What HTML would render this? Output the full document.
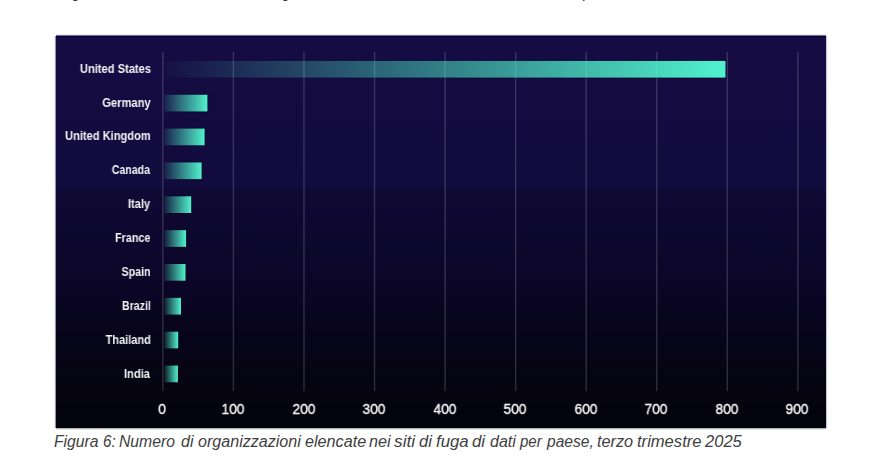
<!DOCTYPE html>
<html>
<head>
<meta charset="utf-8">
<style>
html,body{margin:0;padding:0;background:#fff;width:877px;height:462px;overflow:hidden;}
body{position:relative;font-family:"Liberation Sans",sans-serif;}
.mk{position:absolute;top:0;height:1px;width:1px;display:block;}
#box{position:absolute;left:56px;top:36px;width:770px;height:392px;overflow:visible;
 background:linear-gradient(to bottom,rgb(21,12,68) 0%,rgb(20,12,65) 15%,rgb(18,11,61) 38.5%,rgb(15,9,53) 39.3%,rgb(11,6,38) 65%,rgb(8,5,30) 72%,rgb(5,4,16) 90%,rgb(3,3,11) 100%);
 box-shadow:0 -1px 0 0 rgb(120,115,150),0 -2px 0 0 rgb(236,236,240),-1px 0 0 0 rgb(150,150,170),-2px 0 0 0 rgb(240,240,245),1px 0 0 0 rgb(200,200,210),2px 0 0 0 rgb(246,246,248),0 1px 0 0 rgb(180,180,178),0 2px 0 0 rgb(236,236,236);}
#box .tb{position:absolute;left:0;top:0;width:100%;height:1px;background:rgb(2,0,58);}
#plot{position:absolute;left:0;top:0;}
.lab{will-change:transform;position:absolute;right:676px;height:0;white-space:nowrap;}
.lab span{position:absolute;right:0;bottom:-3px;font-weight:bold;font-size:12px;line-height:14px;color:#f4f4f6;transform:scaleX(0.92);transform-origin:right bottom;}
.ax{will-change:transform;position:absolute;top:365.4px;width:60px;text-align:center;font-weight:normal;-webkit-text-stroke:0.4px #f4f4f4;font-size:14.6px;color:#f4f4f4;line-height:16px;transform:scaleX(0.935);}
#cap{position:absolute;left:55px;top:433px;width:800px;height:18px;font-style:italic;font-size:16px;color:#404040;white-space:nowrap;line-height:18px;}
#cap span{position:absolute;top:0;}
</style>
</head>
<body>
<i class="mk" style="left:72px;background:rgb(255,246,205)"></i><i class="mk" style="left:73px;background:rgb(205,150,100)"></i><i class="mk" style="left:74px;background:rgb(65,58,60)"></i><i class="mk" style="left:75px;background:rgb(55,55,65)"></i><i class="mk" style="left:76px;background:rgb(60,72,115)"></i><i class="mk" style="left:77px;background:rgb(160,215,255)"></i><i class="mk" style="left:282px;background:rgb(255,246,205)"></i><i class="mk" style="left:283px;background:rgb(205,150,100)"></i><i class="mk" style="left:284px;background:rgb(65,58,60)"></i><i class="mk" style="left:285px;background:rgb(55,55,65)"></i><i class="mk" style="left:286px;background:rgb(60,72,115)"></i><i class="mk" style="left:287px;background:rgb(160,215,255)"></i><i class="mk" style="left:582px;background:rgb(255,245,200)"></i><i class="mk" style="left:583px;background:rgb(130,50,50)"></i><i class="mk" style="left:584px;background:rgb(110,175,255)"></i>
<div id="box">
<svg id="plot" width="770" height="392" viewBox="0 0 770 392"><defs><linearGradient id="gb" x1="0" y1="0" x2="1" y2="0"><stop offset="0" stop-color="#50f2cc" stop-opacity="0.09"/><stop offset="1" stop-color="#50f2cc" stop-opacity="1"/></linearGradient><linearGradient id="gu" x1="0" y1="0" x2="1" y2="0"><stop offset="0" stop-color="#50f2cc" stop-opacity="0.015"/><stop offset="1" stop-color="#50f2cc" stop-opacity="1"/></linearGradient><linearGradient id="gh" x1="0" y1="0" x2="1" y2="0"><stop offset="0" stop-color="#02001e" stop-opacity="0.1"/><stop offset="1" stop-color="#02001e" stop-opacity="0.55"/></linearGradient></defs><rect x="106.15" y="16" width="1.4" height="339" fill="#fff" fill-opacity="0.17"/><rect x="176.71" y="16" width="1.4" height="339" fill="#fff" fill-opacity="0.17"/><rect x="247.27" y="16" width="1.4" height="339" fill="#fff" fill-opacity="0.17"/><rect x="317.83" y="16" width="1.4" height="339" fill="#fff" fill-opacity="0.17"/><rect x="388.39" y="16" width="1.4" height="339" fill="#fff" fill-opacity="0.17"/><rect x="458.95" y="16" width="1.4" height="339" fill="#fff" fill-opacity="0.17"/><rect x="529.51" y="16" width="1.4" height="339" fill="#fff" fill-opacity="0.17"/><rect x="600.07" y="16" width="1.4" height="339" fill="#fff" fill-opacity="0.17"/><rect x="670.63" y="16" width="1.4" height="339" fill="#fff" fill-opacity="0.17"/><rect x="741.19" y="16" width="1.4" height="339" fill="#fff" fill-opacity="0.17"/><rect x="108.20" y="23.80" width="561.30" height="1.1" fill="url(#gh)"/><rect x="108.20" y="41.60" width="561.30" height="1.2" fill="url(#gh)"/><rect x="669.50" y="23.80" width="1" height="19.00" fill="#02001e" fill-opacity="0.5"/><rect x="108.20" y="24.90" width="561.30" height="16.7" fill="url(#gu)"/><rect x="108.20" y="57.65" width="43.20" height="1.1" fill="url(#gh)"/><rect x="108.20" y="75.45" width="43.20" height="1.2" fill="url(#gh)"/><rect x="151.40" y="57.65" width="1" height="19.00" fill="#02001e" fill-opacity="0.5"/><rect x="108.20" y="58.75" width="43.20" height="16.7" fill="url(#gb)"/><rect x="108.20" y="91.50" width="40.40" height="1.1" fill="url(#gh)"/><rect x="108.20" y="109.30" width="40.40" height="1.2" fill="url(#gh)"/><rect x="148.60" y="91.50" width="1" height="19.00" fill="#02001e" fill-opacity="0.5"/><rect x="108.20" y="92.60" width="40.40" height="16.7" fill="url(#gb)"/><rect x="108.20" y="125.35" width="37.40" height="1.1" fill="url(#gh)"/><rect x="108.20" y="143.15" width="37.40" height="1.2" fill="url(#gh)"/><rect x="145.60" y="125.35" width="1" height="19.00" fill="#02001e" fill-opacity="0.5"/><rect x="108.20" y="126.45" width="37.40" height="16.7" fill="url(#gb)"/><rect x="108.20" y="159.20" width="27.00" height="1.1" fill="url(#gh)"/><rect x="108.20" y="177.00" width="27.00" height="1.2" fill="url(#gh)"/><rect x="135.20" y="159.20" width="1" height="19.00" fill="#02001e" fill-opacity="0.5"/><rect x="108.20" y="160.30" width="27.00" height="16.7" fill="url(#gb)"/><rect x="108.20" y="193.05" width="21.90" height="1.1" fill="url(#gh)"/><rect x="108.20" y="210.85" width="21.90" height="1.2" fill="url(#gh)"/><rect x="130.10" y="193.05" width="1" height="19.00" fill="#02001e" fill-opacity="0.5"/><rect x="108.20" y="194.15" width="21.90" height="16.7" fill="url(#gb)"/><rect x="108.20" y="226.90" width="21.30" height="1.1" fill="url(#gh)"/><rect x="108.20" y="244.70" width="21.30" height="1.2" fill="url(#gh)"/><rect x="129.50" y="226.90" width="1" height="19.00" fill="#02001e" fill-opacity="0.5"/><rect x="108.20" y="228.00" width="21.30" height="16.7" fill="url(#gb)"/><rect x="108.20" y="260.75" width="16.80" height="1.1" fill="url(#gh)"/><rect x="108.20" y="278.55" width="16.80" height="1.2" fill="url(#gh)"/><rect x="125.00" y="260.75" width="1" height="19.00" fill="#02001e" fill-opacity="0.5"/><rect x="108.20" y="261.85" width="16.80" height="16.7" fill="url(#gb)"/><rect x="108.20" y="294.60" width="14.00" height="1.1" fill="url(#gh)"/><rect x="108.20" y="312.40" width="14.00" height="1.2" fill="url(#gh)"/><rect x="122.20" y="294.60" width="1" height="19.00" fill="#02001e" fill-opacity="0.5"/><rect x="108.20" y="295.70" width="14.00" height="16.7" fill="url(#gb)"/><rect x="108.20" y="328.45" width="13.70" height="1.1" fill="url(#gh)"/><rect x="108.20" y="346.25" width="13.70" height="1.2" fill="url(#gh)"/><rect x="121.90" y="328.45" width="1" height="19.00" fill="#02001e" fill-opacity="0.5"/><rect x="108.20" y="329.55" width="13.70" height="16.7" fill="url(#gb)"/></svg>
<div class="tb"></div>
<div class="lab" style="top:36.60px"><span style="transform:translateX(1.3px) scaleX(0.927)">United States</span></div><div class="lab" style="top:70.50px"><span style="transform:translateX(0.7px) scaleX(0.932)">Germany</span></div><div class="lab" style="top:104.40px"><span style="transform:translateX(1.0px) scaleX(0.924)">United Kingdom</span></div><div class="lab" style="top:138.30px"><span style="transform:translateX(-0.4px) scaleX(0.881)">Canada</span></div><div class="lab" style="top:172.20px"><span style="transform:translateX(0.2px) scaleX(0.929)">Italy</span></div><div class="lab" style="top:206.10px"><span style="transform:translateX(0.0px) scaleX(0.896)">France</span></div><div class="lab" style="top:240.00px"><span style="transform:translateX(0.95px) scaleX(0.891)">Spain</span></div><div class="lab" style="top:273.90px"><span style="transform:translateX(1.2px) scaleX(0.885)">Brazil</span></div><div class="lab" style="top:307.80px"><span style="transform:translateX(0.45px) scaleX(0.916)">Thailand</span></div><div class="lab" style="top:341.70px"><span style="transform:translateX(0.0px) scaleX(0.931)">India</span></div>
<div class="ax" style="left:76.45px">0</div><div class="ax" style="left:147.01px">100</div><div class="ax" style="left:217.57px">200</div><div class="ax" style="left:288.13px">300</div><div class="ax" style="left:358.69px">400</div><div class="ax" style="left:429.25px">500</div><div class="ax" style="left:499.81px">600</div><div class="ax" style="left:570.37px">700</div><div class="ax" style="left:640.93px">800</div><div class="ax" style="left:711.49px">900</div>
</div>
<div id="cap"><span style="left:-0.53px;transform:scaleX(0.9810);transform-origin:0 0">Figura</span><span style="left:47.63px;transform:scaleX(0.9572);transform-origin:0 0">6:</span><span style="left:64.47px;transform:scaleX(0.9821);transform-origin:0 0">Numero</span><span style="left:125.56px;transform:scaleX(1.0040);transform-origin:0 0">di</span><span style="left:142.89px;transform:scaleX(1.0050);transform-origin:0 0">organizzazioni</span><span style="left:250.07px;transform:scaleX(1.0110);transform-origin:0 0">elencate</span><span style="left:313.95px;transform:scaleX(1.0071);transform-origin:0 0">nei</span><span style="left:339.20px;transform:scaleX(1.0800);transform-origin:0 0">siti</span><span style="left:364.14px;transform:scaleX(1.0279);transform-origin:0 0">di</span><span style="left:381.41px;transform:scaleX(1.0490);transform-origin:0 0">fuga</span><span style="left:417.23px;transform:scaleX(1.0518);transform-origin:0 0">di</span><span style="left:434.56px;transform:scaleX(1.0008);transform-origin:0 0">dati</span><span style="left:465.06px;transform:scaleX(0.9400);transform-origin:0 0">per</span><span style="left:491.97px;transform:scaleX(0.9740);transform-origin:0 0">paese,</span><span style="left:542.11px;transform:scaleX(1.0159);transform-origin:0 0">terzo</span><span style="left:582.20px;transform:scaleX(1.0361);transform-origin:0 0">trimestre</span><span style="left:650.28px;transform:scaleX(1.0335);transform-origin:0 0">2025</span></div>
</body>
</html>
